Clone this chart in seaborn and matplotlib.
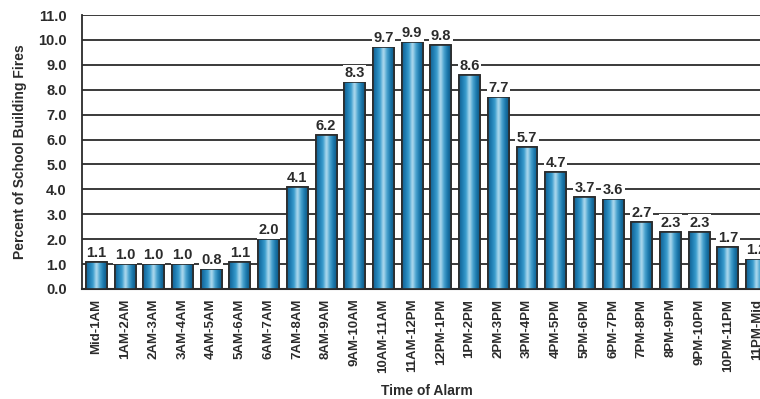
import numpy as np
import pandas as pd
import matplotlib
matplotlib.use("Agg")
import matplotlib.pyplot as plt
from matplotlib.colors import LinearSegmentedColormap
import seaborn as sns

# Share of school building fires by hour of the alarm
time_slots = [
    "Mid-1AM", "1AM-2AM", "2AM-3AM", "3AM-4AM", "4AM-5AM", "5AM-6AM",
    "6AM-7AM", "7AM-8AM", "8AM-9AM", "9AM-10AM", "10AM-11AM", "11AM-12PM",
    "12PM-1PM", "1PM-2PM", "2PM-3PM", "3PM-4PM", "4PM-5PM", "5PM-6PM",
    "6PM-7PM", "7PM-8PM", "8PM-9PM", "9PM-10PM", "10PM-11PM", "11PM-Mid",
]
percent_fires = [
    1.1, 1.0, 1.0, 1.0, 0.8, 1.1, 2.0, 4.1, 6.2, 8.3, 9.7, 9.9,
    9.8, 8.6, 7.7, 5.7, 4.7, 3.7, 3.6, 2.7, 2.3, 2.3, 1.7, 1.2,
]
y_ticks = [0.0, 1.0, 2.0, 3.0, 4.0, 5.0, 6.0, 7.0, 8.0, 9.0, 10.0, 11.0]

sns.set_theme(style="white")
plt.rcParams["font.family"] = ["Liberation Sans", "DejaVu Sans"]
plt.rcParams["font.weight"] = "bold"

df = pd.DataFrame({"slot": time_slots, "pct": percent_fires})

fig = plt.figure(figsize=(7.6, 3.99), dpi=100)
ax = fig.add_axes([0.1079, 0.2757, 0.9066, 0.6867])

ink = "#2b2b2b"

sns.barplot(data=df, x="slot", y="pct", ax=ax, width=0.73,
            color="#2a86b8", edgecolor=ink, linewidth=1.2, zorder=3)

# Cylinder-style horizontal shading on every bar
shade = LinearSegmentedColormap.from_list(
    "tube", ["#145f8e", "#1f7db2", "#3a9ccd", "#b3dcef", "#4aa3cf", "#1a78ab", "#0f5683"])
grad = np.linspace(0, 1, 256).reshape(1, -1)
for patch in ax.patches:
    x0, y0 = patch.get_x(), patch.get_y()
    w, h = patch.get_width(), patch.get_height()
    im = ax.imshow(grad, cmap=shade, aspect="auto", interpolation="bicubic",
                   extent=[x0, x0 + w, y0, y0 + h], zorder=3.5)
    im.set_clip_path(patch)
    outline = plt.Rectangle((x0, y0), w, h, fill=False, edgecolor=ink,
                            linewidth=1.2, zorder=4)
    ax.add_patch(outline)

# Value labels on a white box so grid lines stop short of the text
for i, v in enumerate(percent_fires):
    ax.text(i, v + 0.08, f"{v:.1f}", ha="center", va="bottom",
            fontsize=10.5, fontweight="bold", color=ink, zorder=5,
            bbox=dict(facecolor="white", edgecolor="none", pad=1.0))

ax.set_xlim(-0.5, len(time_slots) - 0.5)
ax.set_ylim(0, 11.0)
ax.set_yticks(y_ticks)
ax.set_yticklabels([f"{t:.1f}" for t in y_ticks], fontsize=10.5, fontweight="bold", color=ink)
ax.yaxis.grid(True, color=ink, linewidth=1.3, zorder=1)
ax.set_axisbelow(True)

ax.set_xticks(np.arange(len(time_slots)))
ax.set_xticklabels(time_slots, rotation=90, fontsize=9.5, fontweight="bold", color=ink)
ax.tick_params(axis="x", which="major", length=0, pad=7)
ax.set_xticks(np.arange(len(time_slots) + 1) - 0.5, minor=True)
ax.tick_params(axis="x", which="minor", length=6, width=1.2, color=ink, direction="out")
ax.tick_params(axis="y", length=9, width=1.3, color=ink, direction="out", pad=2)

for side in ["top", "right"]:
    ax.spines[side].set_visible(False)
ax.spines["left"].set_color(ink)
ax.spines["left"].set_linewidth(1.3)
ax.spines["bottom"].set_color(ink)
ax.spines["bottom"].set_linewidth(1.5)

ax.set_xlabel("Time of Alarm", fontsize=10, fontweight="bold", color=ink, labelpad=8)
ax.set_ylabel("Percent of School Building Fires", fontsize=10, fontweight="bold",
              color=ink, labelpad=8)

fig.savefig("out.png", dpi=100)
